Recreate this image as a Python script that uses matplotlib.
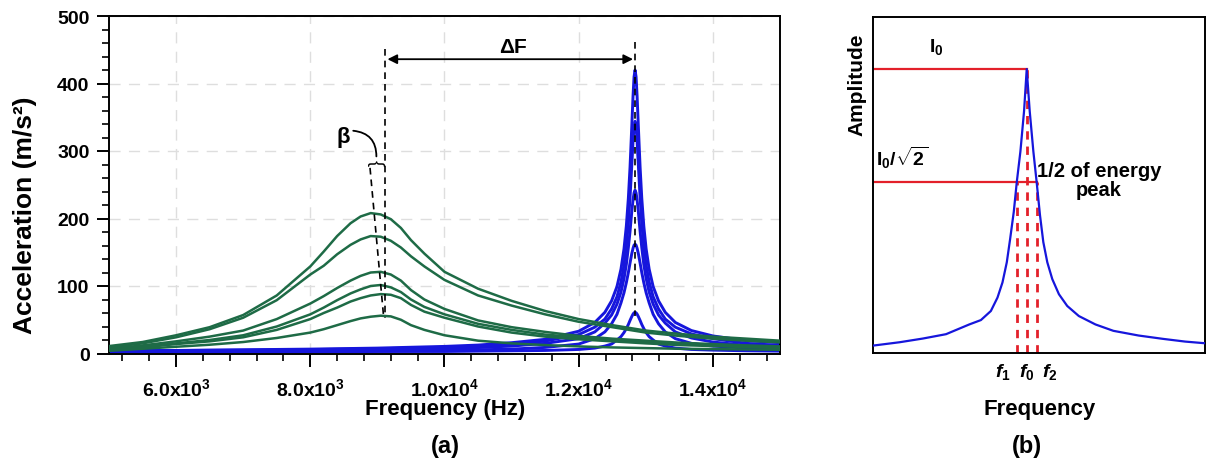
import matplotlib
matplotlib.use("Agg")
import matplotlib.pyplot as plt
from matplotlib.ticker import FixedLocator, MultipleLocator

plt.rcParams["font.family"] = ["Liberation Sans", "DejaVu Sans"]
plt.rcParams["mathtext.fontset"] = "custom"
plt.rcParams["mathtext.rm"] = "Liberation Sans:bold"
plt.rcParams["mathtext.bf"] = "Liberation Sans:bold"
plt.rcParams["mathtext.it"] = "Liberation Sans:bold:italic"

# ---------------- panel (a) data ----------------
freq_green = [5000, 5500, 6000, 6500, 7000, 7500, 8000, 8200, 8400, 8600, 8750, 8900,
              9050, 9200, 9350, 9500, 9700, 10000, 10500, 11000, 11500, 12000,
              12500, 13000, 13500, 14000, 14500, 15000]
green_1 = [11, 17, 27, 39, 57, 86, 129, 151, 174, 193, 203, 208,
           206, 199, 186, 168, 148, 121, 96, 78, 63, 51, 42, 34, 29, 25, 22, 19]
green_2 = [9, 15, 24, 36, 53, 79, 117, 130, 147, 161, 169, 174,
           173, 167, 157, 144, 129, 109, 86, 71, 58, 47, 39, 31, 26, 22, 19, 16.5]
green_3 = [7, 12, 18, 25, 34, 51, 74, 85, 97, 108, 115, 120,
           121, 117, 108, 94, 80, 66, 49, 39, 32, 26, 22, 19, 16, 14, 12, 10.5]
green_4 = [6, 10, 15, 20, 27, 40, 58, 68, 79, 89, 95, 100,
           101.5, 98, 91, 80, 69, 58, 44, 35, 28, 24, 20, 16.5, 14, 12.5, 11, 9]
green_5 = [5, 9, 14, 18, 24, 35, 51, 60, 68, 77, 82, 86,
           88, 87, 82, 72, 62, 53, 40, 31, 25, 21, 18, 15, 12.5, 11, 9.5, 8]
green_6 = [4, 7, 10, 13, 17, 23, 31, 36, 42, 48, 52, 54.5,
           56, 55, 50, 42, 35, 27, 19, 15, 12.5, 10.5, 9, 8, 7, 6.5, 6, 5.5]

freq_blue = [5000, 6000, 7000, 8000, 9000, 10000, 10500, 11000, 11500, 12000,
             12240, 12390, 12490, 12570, 12630, 12675, 12710, 12740, 12765, 12790,
             12810, 12825, 12840, 12855, 12870, 12890, 12915, 12940, 12970, 13005,
             13050, 13110, 13190, 13290, 13440, 13680, 14000, 14500, 15000]
blue_1 = [4.5, 4.5, 5.5, 6.5, 8, 10.5, 12.5, 16, 21, 33,
          46, 61, 78, 99, 125, 155, 189, 230, 276, 334,
          382, 410, 420, 410, 382, 334, 276, 230, 189, 155,
          125, 99, 78, 61, 46, 34, 26, 19, 16]
blue_2 = [4, 4.4, 5, 5.8, 7, 9.3, 11, 13.7, 18.4, 28,
          39, 51, 66, 84, 106, 131, 159, 193, 231, 277,
          315, 336, 344, 336, 315, 277, 231, 193, 159, 131,
          106, 84, 66, 51, 39, 29, 22, 15, 12]
blue_3 = [2.6, 3, 3.5, 4.3, 5.3, 7.3, 8.8, 11, 15, 22,
          32, 45, 57, 73, 91, 111, 132, 157, 181, 209,
          228, 238, 242, 238, 228, 209, 181, 157, 132, 111,
          91, 73, 57, 45, 32, 23, 17, 12, 9.4]
blue_4 = [2.5, 2.5, 2.5, 3, 3.5, 4.5, 5.5, 6.5, 9, 14,
          22, 32, 44, 58, 75, 90, 105, 120, 134, 147.5,
          156, 160.5, 162, 160.5, 156, 147.5, 134, 120, 105, 90,
          75, 58, 44, 32, 22, 15, 11, 8, 6.5]
blue_5 = [2, 2, 2, 2.5, 3, 3, 3.5, 4, 4.5, 6,
          8, 11, 14, 20, 25, 31, 37, 43, 49, 54.5,
          58.4, 60.3, 61, 60.3, 58.4, 54.5, 49, 43, 37, 31,
          25, 20, 14, 11, 8, 6, 5, 4, 3.5]

x_ticks = [6000, 8000, 10000, 12000, 14000]
x_tick_labels = [r"6.0x10$^{3}$", r"8.0x10$^{3}$", r"1.0x10$^{4}$",
                 r"1.2x10$^{4}$", r"1.4x10$^{4}$"]
y_ticks = [0, 100, 200, 300, 400, 500]

# ---------------- panel (b) data ----------------
b_x = [0, 8, 15, 22, 29, 32.5, 35.5, 37.5, 39.0, 40.3, 41.3, 42.4, 43.3, 44.4, 45.5, 46.3,
       47.2, 48.3, 49.3, 50.3, 51.3, 52.5, 54, 56, 58.5, 62, 67, 72.4, 80, 87.4, 94, 100]
b_y = [2.2, 3.2, 4.3, 5.6, 8.5, 9.8, 12.5, 16.5, 21, 27, 33.9, 42, 50.8, 60, 72, 84.5,
       72, 60, 50.8, 41, 33, 27, 22, 17.5, 14, 11, 8.5, 6.6, 5.2, 4.2, 3.4, 2.9]
peak_level = 84.5
half_level = 50.8
f1, f0, f2 = 43.3, 46.3, 49.3

W, H = 1206, 464
fig = plt.figure(figsize=(W / 100, H / 100), dpi=100)


def box(l, t, r, b):
    return [l / W, 1 - b / H, (r - l) / W, (b - t) / H]


green = "#1e6b46"
blue = "#1616dc"

ax = fig.add_axes(box(109, 17, 780, 354.5))
for ys in [green_1, green_2, green_3, green_4, green_5, green_6]:
    ax.plot(freq_green, ys, color=green, lw=1.8, zorder=3)
for ys in [blue_1, blue_2, blue_3, blue_4, blue_5]:
    ax.plot(freq_blue, ys, color=blue, lw=2.1, zorder=2)

ax.set_xlim(5000, 15000)
ax.set_ylim(0, 500)
ax.xaxis.set_major_locator(FixedLocator(x_ticks))
ax.set_xticklabels(x_tick_labels)
ax.xaxis.set_minor_locator(MultipleLocator(400))
ax.yaxis.set_major_locator(FixedLocator(y_ticks))
ax.yaxis.set_minor_locator(MultipleLocator(20))
ax.tick_params(which="major", length=9, width=1.4, direction="out", pad=5, labelsize=14)
ax.tick_params(which="minor", length=5, width=1.2, direction="out")
ax.tick_params(axis="x", which="major", pad=8)
for lab in ax.get_xticklabels() + ax.get_yticklabels():
    lab.set_fontweight("bold")
ax.grid(True, which="major", color="#dedede", ls=(0, (8, 6)), lw=1)
ax.set_axisbelow(True)
for s in ax.spines.values():
    s.set_linewidth(1.4)

# annotations on (a)
dash = (0, (4, 3))
ax.plot([8890, 9095], [275, 52], color="k", lw=1.2, ls=dash, zorder=4)
ax.plot([9113, 9113], [451, 52], color="k", lw=1.2, ls=dash, zorder=4)
ax.plot([12840, 12840], [462, 56], color="k", lw=1.2, ls=dash, zorder=4)
ax.annotate("", xy=(9150, 436), xytext=(12810, 436),
            arrowprops=dict(arrowstyle="<|-|>", color="k", lw=1.3,
                            mutation_scale=14, shrinkA=0, shrinkB=0))
ax.text(11018, 455, "ΔF", ha="center", va="center", fontsize=15, fontweight="bold")
ax.text(8486, 321, "β", ha="center", va="center", fontsize=16, fontweight="bold")
ax.text(9000, 283, "}", rotation=90, ha="center", va="center", fontsize=13)
ax.annotate("", xy=(8985, 292), xytext=(8640, 330),
            arrowprops=dict(arrowstyle="-", color="k", lw=1.3,
                            connectionstyle="arc3,rad=-0.45", shrinkA=0, shrinkB=0))

fig.text(25 / W, 1 - 215 / H, "Acceleration (m/s²)", rotation=90, ha="center",
         va="center", fontsize=19, fontweight="bold")
fig.text(445 / W, 1 - 410 / H, "Frequency (Hz)", ha="center", va="center",
         fontsize=16, fontweight="bold")
fig.text(445 / W, 1 - 447 / H, "(a)", ha="center", va="center",
         fontsize=17, fontweight="bold")

# ---------------- panel (b) ----------------
bx = fig.add_axes(box(873, 18, 1205, 354))
bx.plot(b_x, b_y, color=blue, lw=1.6, zorder=3)
red = "#e3202a"
bx.plot([0, f0], [peak_level, peak_level], color=red, lw=1.6, zorder=2)
bx.plot([0, f2], [half_level, half_level], color=red, lw=1.6, zorder=2)
for fx, top in [(f1, half_level), (f0, peak_level), (f2, half_level)]:
    bx.plot([fx, fx], [0, top], color=red, lw=2, ls=(0, (3, 2.5)), zorder=2)
bx.set_xlim(0, 100)
bx.set_ylim(0, 100)
bx.set_xticks([])
bx.set_yticks([])
for s in bx.spines.values():
    s.set_linewidth(1.4)

bx.text(19, 91.5, r"$\mathrm{I_0}$", ha="center", va="center", fontsize=14)
bx.text(1, 58.5, r"$\mathrm{I_0/\sqrt{2}}$", ha="left", va="center", fontsize=14)
bx.text(68, 51.5, "1/2 of energy\npeak", ha="center", va="center", fontsize=14.5,
        fontweight="bold", linespacing=1.05)
for fx, name in [(39.2, r"$\mathit{f_1}$"), (46.4, r"$\mathit{f_0}$"), (53.3, r"$\mathit{f_2}$")]:
    bx.text(fx, -5.5, name, ha="center", va="center", fontsize=14, clip_on=False)

fig.text(857 / W, 1 - 85 / H, "Amplitude", rotation=90, ha="center", va="center",
         fontsize=15, fontweight="bold")
fig.text(1040 / W, 1 - 410 / H, "Frequency", ha="center", va="center",
         fontsize=16, fontweight="bold")
fig.text(1027 / W, 1 - 447 / H, "(b)", ha="center", va="center",
         fontsize=17, fontweight="bold")

fig.savefig("out.png", dpi=100)
